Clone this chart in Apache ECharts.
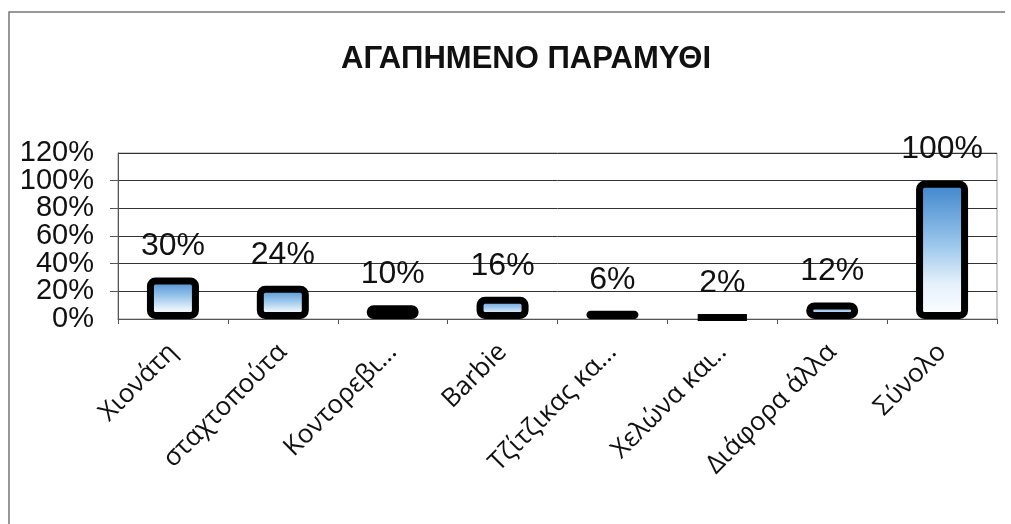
<!DOCTYPE html>
<html>
<head>
<meta charset="utf-8">
<script src="https://cdn.jsdelivr.net/npm/echarts@6/dist/echarts.min.js"></script>
<style>
  html, body { margin: 0; padding: 0; background: #fff; }
  #chart { width: 1011px; height: 524px; }
</style>
</head>
<body>
<div id="chart"></div>
<script>
var categories = ['Χιονάτη', 'σταχτοπούτα', 'Κοντορεβι...', 'Barbie', 'Τζίτζικας κα...', 'Χελώνα και..', 'Διάφορα άλλα', 'Σύνολο']
var values = [0.30, 0.24, 0.10, 0.16, 0.06, 0.02, 0.12, 1.00]
var titleText = 'ΑΓΑΠΗΜΕΝΟ ΠΑΡΑΜΥΘΙ'

var myChart = echarts.init(document.getElementById('chart'))
var labelColor = '#111'
var lineColor = '#555'
var yLabelFont = {
  fontFamily: 'Liberation Sans',
  fontSize: 29,
  color: labelColor
}
function pct(v) {
  return Math.round(v * 100) + '%'
}

var option = {
  backgroundColor: '#fff',
  animation: false,
  title: {
    text: titleText,
    left: 521,
    textAlign: 'center',
    top: 39,
    textStyle: {
      fontFamily: 'Liberation Sans',
      fontSize: 31,
      fontWeight: 'bold',
      color: '#111'
    }
  },
  grid: {
    left: 118,
    right: 14,
    top: 153,
    bottom: 205,
    show: true,
    borderColor: '#999',
    borderWidth: 1
  },
  graphic: [
    {
      type: 'polyline',
      shape: { points: [[9, 524], [9, 12], [1005, 12]] },
      style: { stroke: '#777', lineWidth: 1.5, fill: null }
    }
  ],
  xAxis: {
    type: 'category',
    data: categories,
    axisLine: { show: true, lineStyle: { color: lineColor, width: 1 } },
    axisTick: { show: true, length: 5, lineStyle: { color: lineColor } },
    axisLabel: {
      rotate: 45,
      margin: 29,
      interval: 0,
      fontFamily: 'Open Sans',
      fontSize: 26,
      color: labelColor
    }
  },
  yAxis: [
    {
      // inner labels 20% .. 100%
      type: 'value',
      min: 0,
      max: 1.2,
      interval: 0.2,
      axisLine: { show: true, lineStyle: { color: lineColor, width: 1 } },
      axisTick: { show: true, length: 8, lineStyle: { color: lineColor } },
      splitLine: { show: true, lineStyle: { color: '#333', width: 1 } },
      axisLabel: Object.assign({
        margin: 24,
        showMinLabel: false,
        showMaxLabel: false,
        formatter: pct
      }, yLabelFont)
    },
    {
      // end labels 0% and 120%
      type: 'value',
      position: 'left',
      min: 0,
      max: 1.2,
      interval: 0.2,
      axisLine: { show: false },
      axisTick: { show: false },
      splitLine: { show: false },
      axisLabel: Object.assign({
        margin: 24,
        showMinLabel: true,
        showMaxLabel: true,
        formatter: function (v) {
          return (v < 0.01 || v > 1.19) ? pct(v) : ''
        }
      }, yLabelFont)
    }
  ],
  series: [
    {
      type: 'bar',
      data: values,
      barWidth: 52,
      itemStyle: {
        borderColor: '#000',
        borderWidth: 7,
        borderRadius: 5,
        color: new echarts.graphic.LinearGradient(0, 0, 0, 1, [
          { offset: 0, color: '#3a82cc' },
          { offset: 0.45, color: '#98c5eb' },
          { offset: 0.75, color: '#e6f1fb' },
          { offset: 1, color: '#ffffff' }
        ])
      },
      label: {
        show: true,
        position: 'top',
        distance: 15,
        fontFamily: 'Liberation Sans',
        fontSize: 32,
        color: '#111',
        formatter: function (p) { return pct(p.value) }
      }
    }
  ]
}

myChart.setOption(option)
</script>
</body>
</html>
